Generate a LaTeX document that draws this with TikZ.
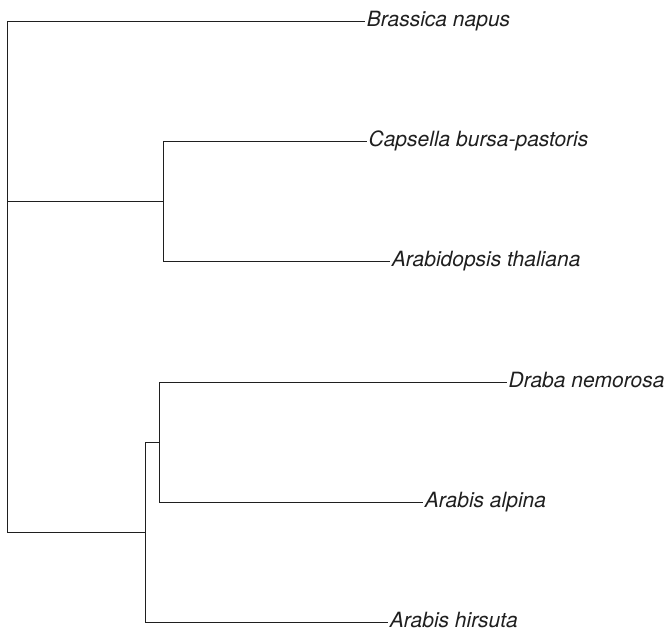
\documentclass[tikz,border=0pt]{standalone}
\usepackage{fontspec}
\setsansfont{TeX Gyre Heros}
\usepackage{tikz}
\tikzset{every path/.style={black!88,line width=0.9pt}, taxon/.style={anchor=west, inner sep=1.5pt, text height=15pt, text depth=4.5pt, text=black!88, font=\fontsize{21}{25}\selectfont\sffamily\itshape}}

\begin{document}
\begin{tikzpicture}[x=1pt,y=-1pt]
  \useasboundingbox (0,0) rectangle (667,631);
  \begin{scope}
   \coordinate (root) at (  7.3,276.0);
   \coordinate (cb)   at (163.0,201.7);
   \coordinate (ar)   at (145.3,532.3);
   \coordinate (dr)   at (159.0,442.0);
   \node[taxon] (bn) at (365.0, 21.0) {Brassica napus};
   \node[taxon] (cp) at (366.7,141.7) {Capsella bursa-pastoris};
   \node[taxon] (at) at (390.0,261.0) {Arabidopsis thaliana};
   \node[taxon] (dn) at (506.7,382.0) {Draba nemorosa};
   \node[taxon] (aa) at (423.0,502.3) {Arabis alpina};
   \node[taxon] (ah) at (388.0,622.7) {Arabis hirsuta};
  \end{scope}
  \draw (root) |- (bn.west);
  \draw (root) |- (cb);
  \draw (root) |- (ar);
  \draw (cb)   |- (cp.west);
  \draw (cb)   |- (at.west);
  \draw (ar)   |- (dr);
  \draw (ar)   |- (ah.west);
  \draw (dr)   |- (dn.west);
  \draw (dr)   |- (aa.west);
\end{tikzpicture}
\end{document}
